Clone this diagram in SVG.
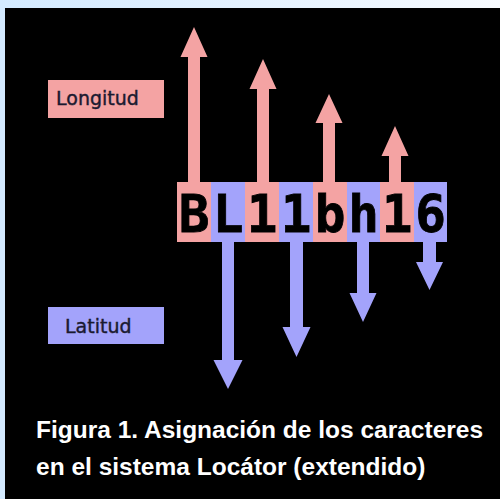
<svg xmlns="http://www.w3.org/2000/svg" width="500" height="499" viewBox="0 0 500 499">
<defs>
<linearGradient id="bg" x1="0" y1="0" x2="1" y2="0">
<stop offset="0" stop-color="#d3eaff"/>
<stop offset="1" stop-color="#f7fbff"/>
</linearGradient>
<style>
.pk{fill:#f4a3a3}
.bl{fill:#a3a3fb}
.lbl{font-family:"DejaVu Sans",sans-serif;font-size:19px;fill:#1a1a30;stroke:#1a1a30;stroke-width:0.4}
.ch{font-family:"DejaVu Sans Mono",monospace;font-weight:bold;font-size:51px;fill:#000;stroke:#000;stroke-width:0.8;text-anchor:middle}
.cap{font-family:"Liberation Sans",Arial,sans-serif;font-weight:bold;font-size:24.5px;fill:#fff}
</style>
</defs>
<rect width="500" height="499" fill="url(#bg)"/>
<rect x="5" y="8" width="495" height="491" fill="#000"/>

<g id="connectors">
<path class="pk" d="M188,182 V57 H180.5 L194,27 L207.5,57 H200 V182 Z"/>
<path class="pk" d="M257,182 V89 H249.5 L263,59 L276.5,89 H269 V182 Z"/>
<path class="pk" d="M323,182 V123 H315.5 L329,94 L342.5,123 H335 V182 Z"/>
<path class="pk" d="M389,182 V156 H381.5 L395,126 L408.5,156 H401 V182 Z"/>
<path class="bl" d="M222,242 V360 H213.5 L228,389 L242.5,360 H234 V242 Z"/>
<path class="bl" d="M290,242 V327 H282.5 L296.5,357 L310.5,327 H303 V242 Z"/>
<path class="bl" d="M357,242 V293 H349.5 L363,322 L376.5,293 H369 V242 Z"/>
<path class="bl" d="M423,242 V262 H416 L429.5,290 L443,262 H436 V242 Z"/>
</g>

<g id="longitud">
<rect class="pk" x="48" y="80" width="116" height="38"/>
<text class="lbl" x="56" y="105">Longitud</text>
</g>
<g id="latitud">
<rect class="bl" x="48" y="307" width="116" height="37"/>
<text class="lbl" x="65" y="333">Latitud</text>
</g>

<g id="code">
<rect class="pk" x="177" y="182" width="34" height="60"/>
<rect class="bl" x="211" y="182" width="34" height="60"/>
<rect class="pk" x="245" y="182" width="34" height="60"/>
<rect class="bl" x="279" y="182" width="34" height="60"/>
<rect class="pk" x="313" y="182" width="34" height="60"/>
<rect class="bl" x="347" y="182" width="33" height="60"/>
<rect class="pk" x="380" y="182" width="34" height="60"/>
<rect class="bl" x="414" y="182" width="33" height="60"/>
<text class="ch" x="194" y="232">B</text>
<text class="ch" x="228" y="232">L</text>
<text class="ch" x="262" y="232">1</text>
<text class="ch" x="296" y="232">1</text>
<text class="ch" x="330" y="232">b</text>
<text class="ch" x="363.5" y="232">h</text>
<text class="ch" x="397" y="232">1</text>
<text class="ch" x="430.5" y="232">6</text>
</g>

<g id="caption">
<text class="cap" x="36" y="438">Figura 1. Asignación de los caracteres</text>
<text class="cap" x="36" y="475">en el sistema Locátor (extendido)</text>
</g>
</svg>
